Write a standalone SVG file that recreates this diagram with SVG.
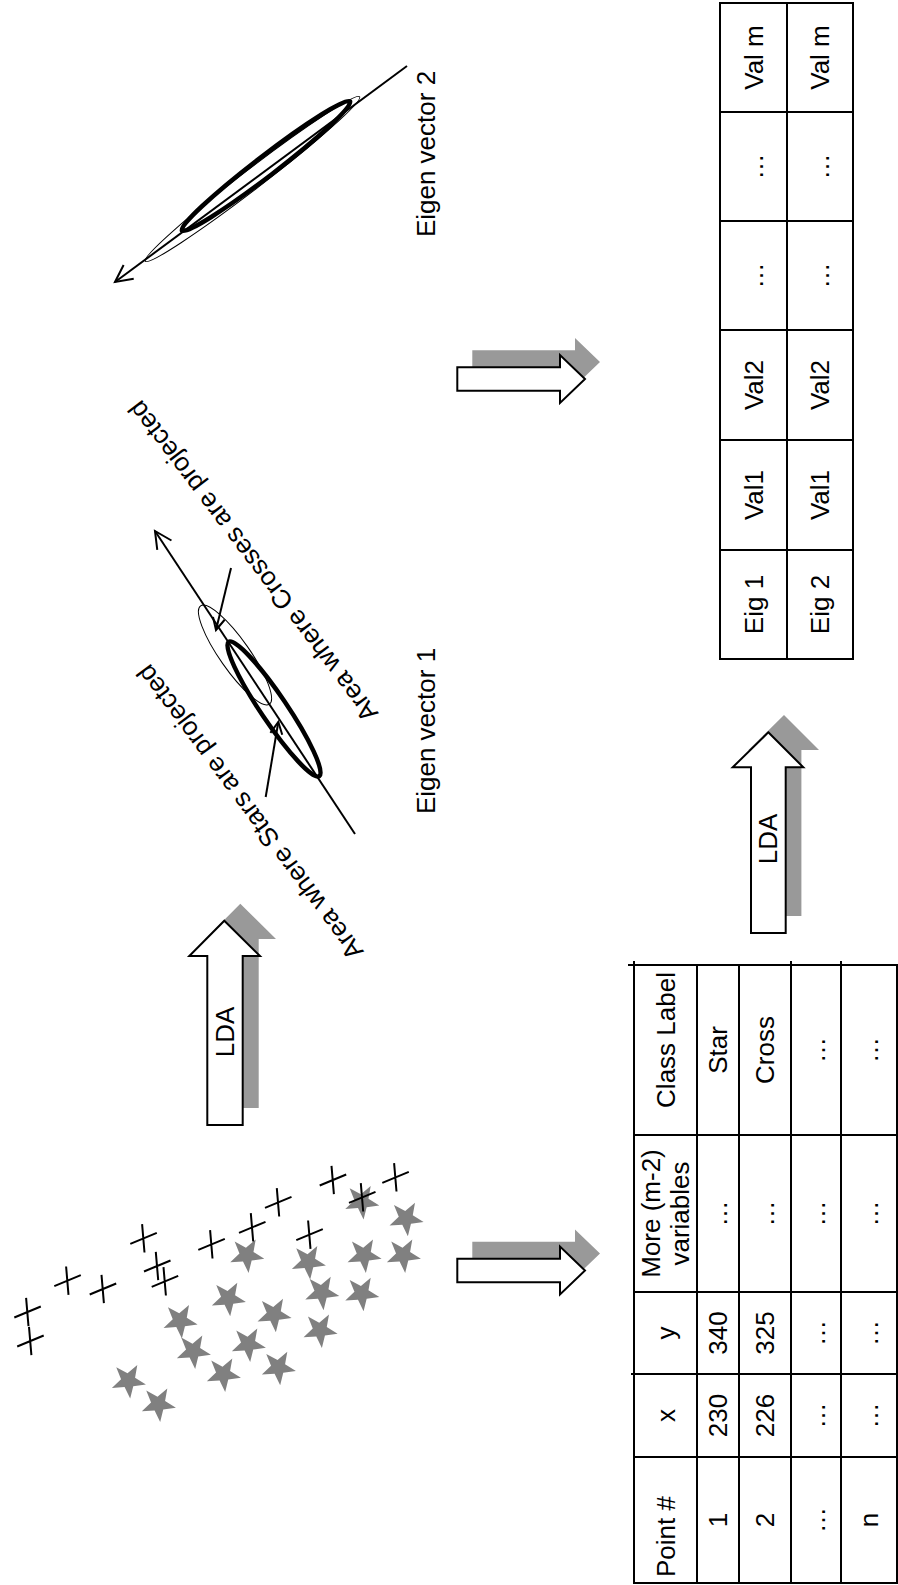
<svg xmlns="http://www.w3.org/2000/svg" width="898" height="1585" viewBox="0 0 898 1585">
<style>
text{font-family:"Liberation Sans",Arial,sans-serif;fill:#000}
.t{font-size:26px}
.l{font-size:26px}
.g{fill:none;stroke:#000;stroke-width:2}
.sh{fill:#999}
.ar{fill:#fff;stroke:#000;stroke-width:2}
.st{fill:#808080}
.cr{fill:none;stroke:#000;stroke-width:2}
.ax{fill:none;stroke:#000;stroke-width:2}
</style>
<defs>
<marker id="ah" markerUnits="userSpaceOnUse" orient="auto" markerWidth="40" markerHeight="40" refX="0" refY="0" viewBox="-20 -20 40 40" overflow="visible"><path d="M-17,-8.5 L0,0 L-17,8.5" fill="none" stroke="#000" stroke-width="2"/></marker>
<marker id="ahs" markerUnits="userSpaceOnUse" orient="auto" markerWidth="30" markerHeight="30" refX="0" refY="0" viewBox="-15 -15 30 30" overflow="visible"><path d="M-12,-6 L0,0 L-12,6" fill="none" stroke="#000" stroke-width="2"/></marker>
<path id="star" d="M9,-15.59 L6.77,-3.02 L17.61,3.74 L4.96,5.51 L1.88,17.9 L-3.71,6.42 L-16.44,7.32 L-7.25,-1.55 L-12.05,-13.38 L-0.77,-7.37 Z"/>
<path id="cross" d="M-1.2,-14.2 L1.2,14.2 M-13,5.5 L13.5,-5.5"/>
</defs>

<g id="scatter">
<g class="st">
<use href="#star" x="128.3" y="1380.7"/><use href="#star" x="158.3" y="1404"/>
<use href="#star" x="180" y="1320.7"/><use href="#star" x="193.3" y="1351"/>
<use href="#star" x="223.3" y="1374"/><use href="#star" x="228.3" y="1298.3"/>
<use href="#star" x="248.3" y="1344"/><use href="#star" x="246.7" y="1255"/>
<use href="#star" x="274" y="1314.3"/><use href="#star" x="278.3" y="1367.3"/>
<use href="#star" x="308.3" y="1261.7"/><use href="#star" x="321.7" y="1292.3"/>
<use href="#star" x="320" y="1330"/><use href="#star" x="361.7" y="1201.7"/>
<use href="#star" x="364" y="1255"/><use href="#star" x="361.7" y="1293.3"/>
<use href="#star" x="406" y="1218.3"/><use href="#star" x="403.3" y="1255"/>
</g>
<g class="cr">
<use href="#cross" x="27.3" y="1312"/><use href="#cross" x="30.2" y="1341"/>
<use href="#cross" x="67.3" y="1280.7"/><use href="#cross" x="102.7" y="1289"/>
<use href="#cross" x="143.3" y="1238.3"/><use href="#cross" x="157" y="1266"/>
<use href="#cross" x="164.7" y="1281.3"/><use href="#cross" x="211.3" y="1244.3"/>
<use href="#cross" x="252" y="1227.3"/><use href="#cross" x="278" y="1202.3"/>
<use href="#cross" x="309.3" y="1234.7"/><use href="#cross" x="332.7" y="1180"/>
<use href="#cross" x="362" y="1197.3"/><use href="#cross" x="395.3" y="1177.3"/>
</g>
</g>

<g id="data-table">
<path class="g" d="M628,965 H897 V1583 H634 V961 M697,965 V1583 M739,965 V1583 M791,961 V1583 M841,961 V1583 M634,1135 H897 M634,1292 H897 M631,1374 H897 M634,1457 H897"/>
<g class="t">
<text transform="translate(674.8 1577) rotate(-90)">Point #</text>
<text transform="translate(674.8 1415.5) rotate(-90)" text-anchor="middle">x</text>
<text transform="translate(674.8 1333) rotate(-90)" text-anchor="middle">y</text>
<text transform="translate(660.3 1213.5) rotate(-90)" text-anchor="middle">More (m-2)</text>
<text transform="translate(689.3 1213.5) rotate(-90)" text-anchor="middle">variables</text>
<text transform="translate(674.8 1040) rotate(-90)" text-anchor="middle">Class Label</text>

<text transform="translate(727.3 1520) rotate(-90)" text-anchor="middle">1</text>
<text transform="translate(727.3 1415.5) rotate(-90)" text-anchor="middle">230</text>
<text transform="translate(727.3 1333) rotate(-90)" text-anchor="middle">340</text>
<text transform="translate(727.3 1213.5) rotate(-90)" text-anchor="middle">…</text>
<text transform="translate(727.3 1050) rotate(-90)" text-anchor="middle">Star</text>

<text transform="translate(774.3 1520) rotate(-90)" text-anchor="middle">2</text>
<text transform="translate(774.3 1415.5) rotate(-90)" text-anchor="middle">226</text>
<text transform="translate(774.3 1333) rotate(-90)" text-anchor="middle">325</text>
<text transform="translate(774.3 1213.5) rotate(-90)" text-anchor="middle">…</text>
<text transform="translate(774.3 1050) rotate(-90)" text-anchor="middle">Cross</text>

<text transform="translate(825.3 1520) rotate(-90)" text-anchor="middle">…</text>
<text transform="translate(825.3 1415.5) rotate(-90)" text-anchor="middle">…</text>
<text transform="translate(825.3 1333) rotate(-90)" text-anchor="middle">…</text>
<text transform="translate(825.3 1213.5) rotate(-90)" text-anchor="middle">…</text>
<text transform="translate(825.3 1050) rotate(-90)" text-anchor="middle">…</text>

<text transform="translate(878.3 1520) rotate(-90)" text-anchor="middle">n</text>
<text transform="translate(878.3 1415.5) rotate(-90)" text-anchor="middle">…</text>
<text transform="translate(878.3 1333) rotate(-90)" text-anchor="middle">…</text>
<text transform="translate(878.3 1213.5) rotate(-90)" text-anchor="middle">…</text>
<text transform="translate(878.3 1050) rotate(-90)" text-anchor="middle">…</text>
</g>
</g>

<g id="eigen-table">
<path class="g" d="M720,3 H853 V659 H720 Z M787,3 V659 M720,112 H853 M720,221 H853 M720,330 H853 M720,440 H853 M720,550 H853"/>
<g class="t" text-anchor="middle">
<text transform="translate(762.8 604.5) rotate(-90)">Eig 1</text>
<text transform="translate(762.8 495) rotate(-90)">Val1</text>
<text transform="translate(762.8 385) rotate(-90)">Val2</text>
<text transform="translate(762.8 275.5) rotate(-90)">…</text>
<text transform="translate(762.8 166.5) rotate(-90)">…</text>
<text transform="translate(762.8 57.5) rotate(-90)">Val m</text>
<text transform="translate(829.3 604.5) rotate(-90)">Eig 2</text>
<text transform="translate(829.3 495) rotate(-90)">Val1</text>
<text transform="translate(829.3 385) rotate(-90)">Val2</text>
<text transform="translate(829.3 275.5) rotate(-90)">…</text>
<text transform="translate(829.3 166.5) rotate(-90)">…</text>
<text transform="translate(829.3 57.5) rotate(-90)">Val m</text>
</g>
</g>

<g id="eigen-vector-1">
<ellipse cx="235" cy="655" rx="60" ry="15" transform="rotate(55 235 655)" fill="none" stroke="#000" stroke-width="1"/>
<ellipse cx="274" cy="709" rx="81" ry="13" transform="rotate(56 274 709)" fill="none" stroke="#000" stroke-width="4.5"/>
<line class="ax" x1="355" y1="834" x2="155" y2="531" marker-end="url(#ah)"/>
<text class="l" transform="translate(435 731) rotate(-90)" text-anchor="middle">Eigen vector 1</text>
</g>

<g id="eigen-vector-2">
<ellipse cx="252.5" cy="179" rx="135" ry="10" transform="rotate(-37.5 252.5 179)" fill="none" stroke="#000" stroke-width="1"/>
<ellipse cx="266" cy="166" rx="106" ry="10" transform="rotate(-37.5 266 166)" fill="none" stroke="#000" stroke-width="4.5"/>
<line class="ax" x1="407" y1="66" x2="115" y2="282" marker-end="url(#ah)"/>
<text class="l" transform="translate(435 154) rotate(-90)" text-anchor="middle">Eigen vector 2</text>
</g>

<g id="label-crosses">
<text class="l" transform="translate(260 556) rotate(232.9)" text-anchor="middle">Area where Crosses are projected</text>
</g>
<g id="label-stars">
<text class="l" transform="translate(257 807) rotate(233.4)" text-anchor="middle">Area where Stars are projected</text>
</g>

<g id="lda-arrow-1">
<polygon class="sh" points="240.3,903.7 276,939 258.7,939 258.7,1108 223.3,1108 223.3,939 205.3,939"/>
<polygon class="ar" points="224.3,920.7 260,956 242.7,956 242.7,1125 207.3,1125 207.3,956 189.3,956"/>
<text class="l" transform="translate(234 1032) rotate(-90)" text-anchor="middle">LDA</text>
</g>

<g id="lda-arrow-2">
<polygon class="sh" points="784,715 819,750 801.4,750 801.4,916 766.7,916 766.7,750 748.4,750"/>
<polygon class="ar" points="768.3,732.3 803.3,767.3 785.7,767.3 785.7,933 751,933 751,767.3 732.7,767.3"/>
<text class="l" transform="translate(777 839) rotate(-90)" text-anchor="middle">LDA</text>
</g>

<g id="arrow-to-table">
<polygon class="sh" points="472.3,1241.8 575,1241.8 575,1229.5 600,1253.5 575,1277.5 575,1265.2 472.3,1265.2"/>
<polygon class="ar" points="457.3,1258.8 560,1258.8 560,1246.5 585,1270.5 560,1294.5 560,1282.2 457.3,1282.2"/>
</g>

<g id="arrow-to-eigen-table">
<polygon class="sh" points="472.3,350.3 575,350.3 575,338 600,362 575,386 575,373.7 472.3,373.7"/>
<polygon class="ar" points="457.3,367.3 560,367.3 560,355 585,379 560,403 560,390.7 457.3,390.7"/>
</g>

<g id="connectors">
<line class="ax" x1="231" y1="568" x2="216" y2="630" marker-end="url(#ahs)"/>
<line class="ax" x1="265.7" y1="797" x2="278.3" y2="722" marker-end="url(#ahs)"/>
</g>
</svg>
